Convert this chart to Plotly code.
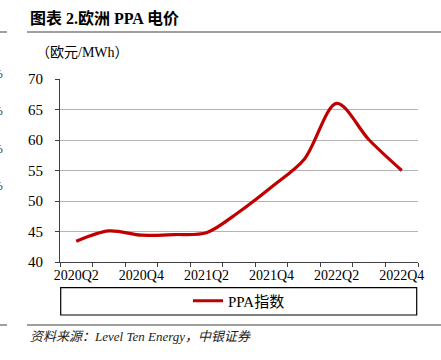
import plotly.graph_objects as go

quarters = ["2020Q2", "2020Q3", "2020Q4", "2021Q1", "2021Q2", "2021Q3",
            "2021Q4", "2022Q1", "2022Q2", "2022Q3", "2022Q4"]
ppa_index = [43.4, 45.1, 44.4, 44.5, 44.8, 48.2, 52.3, 56.8, 66.0, 60.0, 55.0]
tick_labels = [q if i % 2 == 0 else "" for i, q in enumerate(quarters)]
y_ticks = [40, 45, 50, 55, 60, 65, 70]

W, H = 441, 360
ML, MR, MT, MB = 60, 23, 79, 98
PW, PH = W - ML - MR, H - MT - MB


def px(x):
    return (x - ML) / PW


def py(y):
    return (H - MB - y) / PH


SERIF = "Liberation Serif, Times New Roman, Noto Sans CJK SC, serif"

fig = go.Figure()
fig.add_trace(go.Scatter(
    x=quarters, y=ppa_index, mode="lines", name="PPA指数",
    line=dict(color="#C00000", width=3.2, shape="spline", smoothing=0.9),
))

fig.update_layout(
    width=W, height=H,
    margin=dict(l=ML, r=MR, t=MT, b=MB, pad=0, autoexpand=False),
    paper_bgcolor="white", plot_bgcolor="white",
    font=dict(family=SERIF, color="#000000"),
    showlegend=True,
    legend=dict(orientation="h", x=0.5, xanchor="center", y=py(301), yanchor="middle",
                font=dict(family=SERIF, size=15, color="#000000"),
                bgcolor="rgba(0,0,0,0)", borderwidth=0, itemwidth=30),
    xaxis=dict(
        type="category", categoryorder="array", categoryarray=quarters,
        range=[-0.5, len(quarters) - 0.5],
        tickmode="array", tickvals=quarters, ticktext=tick_labels, tickangle=0,
        tickson="boundaries", ticks="outside", ticklen=4, tickcolor="#404040",
        showline=True, linecolor="#404040", linewidth=1.2,
        showgrid=False, zeroline=False, automargin=False,
        tickfont=dict(family=SERIF, size=14, color="#000000"),
    ),
    yaxis=dict(
        range=[40, 70], tickmode="array", tickvals=y_ticks,
        ticks="outside", ticklen=4, tickcolor="#404040",
        showline=True, linecolor="#404040", linewidth=1.2,
        showgrid=True, gridcolor="#b4b4b4", gridwidth=1.3,
        zeroline=False, ticklabelstandoff=9, automargin=False,
        tickfont=dict(family=SERIF, size=15, color="#000000"),
    ),
)

shapes = [
    # title rule
    dict(type="line", xref="paper", yref="paper", x0=px(27), x1=px(441), y0=py(32), y1=py(32),
         line=dict(color="#7f7f7f", width=1.5)),
    dict(type="line", xref="paper", yref="paper", x0=px(0), x1=px(7), y0=py(32), y1=py(32),
         line=dict(color="#7f7f7f", width=1.5)),
    # bottom rule
    dict(type="line", xref="paper", yref="paper", x0=px(27), x1=px(441), y0=py(325), y1=py(325),
         line=dict(color="#7f7f7f", width=1.5)),
    dict(type="line", xref="paper", yref="paper", x0=px(0), x1=px(7), y0=py(325), y1=py(325),
         line=dict(color="#7f7f7f", width=1.5)),
    # legend box
    dict(type="rect", xref="paper", yref="paper", x0=px(60.7), x1=px(416.7), y0=py(287.7), y1=py(315),
         line=dict(color="#000000", width=1.2), fillcolor="rgba(0,0,0,0)"),
]
fig.update_layout(shapes=shapes)

annotations = [
    dict(text="<b>图表 2.欧洲 PPA 电价</b>", x=px(28), y=py(18), xref="paper", yref="paper",
         xanchor="left", yanchor="middle", showarrow=False,
         font=dict(family=SERIF, size=16, color="#000000")),
    dict(text="（欧元/MWh）", x=px(34), y=py(52), xref="paper", yref="paper",
         xanchor="left", yanchor="middle", showarrow=False,
         font=dict(family=SERIF, size=14, color="#000000")),
    dict(text="<i>资料来源：Level Ten Energy，中银证券</i>", x=px(28), y=py(336), xref="paper", yref="paper",
         xanchor="left", yanchor="middle", showarrow=False,
         font=dict(family=SERIF, size=13, color="#222222")),
]
for yy in [73, 110, 148, 185]:
    annotations.append(dict(text="%", x=px(5), y=py(yy), xref="paper", yref="paper",
                            xanchor="right", yanchor="middle", showarrow=False,
                            font=dict(family=SERIF, size=13, color="#333333")))
fig.update_layout(annotations=annotations)

fig.write_html("out.html", config={"displayModeBar": False},
               post_script="document.body.style.margin='0';document.body.style.overflow='hidden';")
